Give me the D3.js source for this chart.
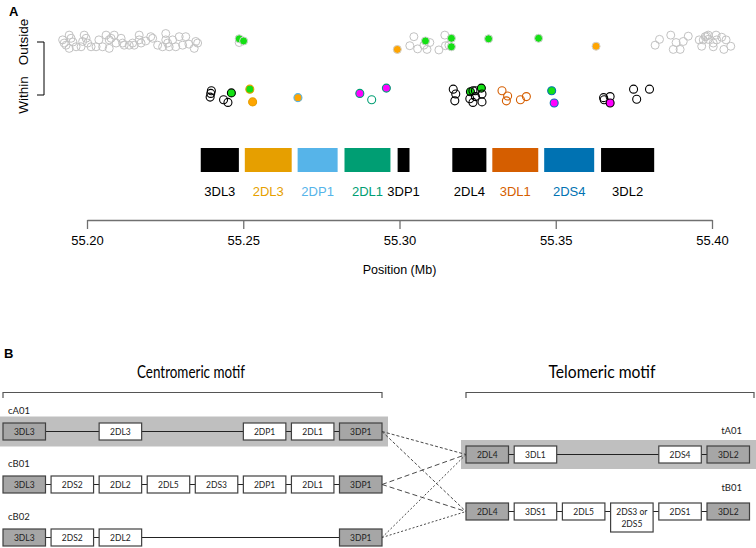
<!DOCTYPE html>
<html><head><meta charset="utf-8">
<script src="https://cdnjs.cloudflare.com/ajax/libs/d3/7.8.5/d3.min.js"></script>
<style>body{margin:0;background:#fff}svg{display:block}</style>
</head><body>
<script>
// ---------- Panel A data ----------
const tickValues = [55.20, 55.25, 55.30, 55.35, 55.40];
const rowLabels = ["Within", "Outside"];
const geneNames = ["3DL3","2DL3","2DP1","2DL1","3DP1","2DL4","3DL1","2DS4","3DL2"];
const geneStart = [55.2364,55.2505,55.2674,55.2824,55.2994,55.3169,55.3297,55.3463,55.3645];
const geneEnd   = [55.2486,55.2655,55.2802,55.2971,55.3032,55.3278,55.3444,55.3623,55.3815];
const geneColors = ["#000000","#E69F00","#56B4E9","#009E73","#000000","#000000","#D55E00","#0072B2","#000000"];

// outside gene region (grey open circles): position (Mb), jittered row value
const grayPos = [55.1922,55.1943,55.1949,55.1933,55.1943,55.1927,55.1965,55.1986,55.1991,55.1997,55.2002,55.1981,55.2013,55.2029,55.2050,55.2061,55.2071,55.2077,55.2087,55.2093,55.2071,55.2109,55.2114,55.2119,55.2135,55.2146,55.2151,55.2167,55.2167,55.2173,55.2204,55.2210,55.2226,55.2242,55.2252,55.2252,55.2258,55.2263,55.2274,55.2284,55.2295,55.2306,55.2316,55.2343,55.2348,55.2354,55.1955,55.2038,55.2188,55.2326,55.2487,
  55.3033,55.3046,55.3058,55.3078,55.3088,55.3097,55.3126,55.3145,55.3147,55.3158,
  55.3818,55.3832,55.3868,55.3885,55.3876,55.3898,55.3908,55.3924,55.3959,55.3967,55.3978,55.3983,55.3988,55.4004,55.4013,55.4015,55.4004,55.4031,55.4038,55.4045,55.4060,55.3972,55.3988];
const grayRow = [1.04,1.13,1.07,0.94,0.88,0.98,0.91,1.01,1.13,1.07,0.98,0.91,0.91,0.91,0.91,1.13,1.04,1.07,1.13,0.98,0.88,1.07,0.98,0.94,0.94,0.98,0.94,1.13,1.04,0.98,1.10,1.07,0.94,0.91,1.16,1.04,0.98,0.91,1.04,0.91,1.10,0.94,1.10,0.88,1.01,0.98,1.00,1.04,1.02,0.96,0.99,
  0.93,1.10,0.87,0.94,0.86,0.99,0.85,1.13,0.93,0.94,
  0.94,1.05,1.13,0.99,0.86,0.86,1.01,1.11,1.04,0.92,1.10,1.11,1.05,0.98,1.13,1.04,0.91,1.09,0.86,1.04,0.92,1.04,1.13];

// outside, coloured (filled) points
const outPos  = [55.2487,55.2501,55.3083,55.3166,55.3166,55.3285,55.3445,55.2993,55.3629];
const outRow  = [1.06,1.02,1.02,1.07,0.91,1.06,1.07,0.86,0.92];
const outFill = ["green","green","green","green","green","green","green","orange","orange"];

// within gene region: position, row jitter, gene index (stroke), fill class
const inPos  = [55.2398,55.2396,55.2394,55.2437,55.2451,55.2462,55.2521,55.2530,55.2675,55.2873,55.2911,55.2958,
  55.3172,55.3180,55.3177,55.3227,55.3225,55.3235,55.3243,55.3243,55.3235,55.3262,55.3264,55.3264,
  55.3328,55.3346,55.3342,55.3387,55.3406,55.3487,55.3495,
  55.3653,55.3655,55.3674,55.3674,55.3749,55.3759,55.3800];
const inRow  = [0.08,0.03,-0.04,-0.09,-0.14,0.04,0.11,-0.13,-0.05,0.03,-0.09,0.13,
  0.11,0.02,-0.11,0.06,-0.07,-0.14,0.08,-0.03,0.08,0.13,0.02,-0.13,
  0.08,-0.02,-0.11,-0.09,-0.03,0.08,-0.15,
  -0.05,-0.09,-0.03,-0.15,0.11,-0.08,0.11];
const inGene = [0,0,0,0,0,0,1,1,2,3,3,3, 5,5,5,5,5,5,5,5,5,5,5,5, 6,6,6,6,6,7,7, 8,8,8,8,8,8,8];
const inFill = ["none","none","none","none","none","green","green","orange","orange","magenta","none","magenta",
  "none","none","none","green","none","none","none","none","none","green","none","none",
  "none","none","none","none","none","green","magenta",
  "none","none","none","magenta","none","none","none"];
const fillColors = {none:"none", green:"#14e014", orange:"#FFA500", magenta:"#FF00FF"};

// ---------- Panel B data ----------
const centroNames = ["cA01","cB01","cB02"];
const centroGenes = [
  ["3DL3",null,"2DL3",null,null,"2DP1","2DL1","3DP1"],
  ["3DL3","2DS2","2DL2","2DL5","2DS3","2DP1","2DL1","3DP1"],
  ["3DL3","2DS2","2DL2",null,null,null,null,"3DP1"]
];
const teloNames = ["tA01","tB01"];
const teloGenes = [
  ["2DL4","3DL1",null,null,"2DS4","3DL2"],
  ["2DL4","3DS1","2DL5","2DS3 or 2DS5","2DS1","3DL2"]
];
const frameworkGenes = ["3DL3","3DP1","2DL4","3DL2"];
const linkDash = ["3,2","5,3","2,2"];

// ---------- Drawing ----------
const W = 756, H = 548;
const svg = d3.select("body").append("svg").attr("width", W).attr("height", H);
const sans = "'Liberation Sans', Arial, sans-serif";
const cal = "Lato, 'Open Sans', sans-serif";

// Panel A
svg.append("text").attr("x", 9).attr("y", 16).text("A")
  .attr("font-family", sans).attr("font-weight", "bold").attr("font-size", 13);

const x = d3.scaleLinear().domain([55.20, 55.40]).range([87, 712]);
const y = d3.scaleLinear().domain([0, 1]).range([95, 42]);

// y bracket axis
svg.append("path")
  .attr("d", `M37,${y(1)}H44V${y(0)}H37`)
  .attr("fill", "none").attr("stroke", "#000").attr("stroke-width", 1);
rowLabels.forEach((t, i) => {
  svg.append("text").text(t)
    .attr("transform", `translate(28,${y(i)}) rotate(-90)`)
    .attr("text-anchor", "middle").attr("font-family", sans).attr("font-size", 13.5);
});

const r = 4;
svg.append("g").selectAll("circle").data(grayPos).join("circle")
  .attr("cx", d => x(d)).attr("cy", (d, i) => y(grayRow[i])).attr("r", r)
  .attr("fill", "none").attr("stroke", "#c2c2c2").attr("stroke-width", 1);
svg.append("g").selectAll("circle").data(outPos).join("circle")
  .attr("cx", d => x(d)).attr("cy", (d, i) => y(outRow[i])).attr("r", r)
  .attr("fill", (d, i) => fillColors[outFill[i]]).attr("stroke", "#d0d0d0").attr("stroke-width", 1);
svg.append("g").selectAll("circle").data(inPos).join("circle")
  .attr("cx", d => x(d)).attr("cy", (d, i) => y(inRow[i])).attr("r", r)
  .attr("fill", (d, i) => fillColors[inFill[i]])
  .attr("stroke", (d, i) => geneColors[inGene[i]]).attr("stroke-width", 1.1);

// gene bars
svg.append("g").selectAll("rect").data(geneNames).join("rect")
  .attr("x", (d, i) => x(geneStart[i])).attr("width", (d, i) => x(geneEnd[i]) - x(geneStart[i]))
  .attr("y", 148).attr("height", 24)
  .attr("fill", (d, i) => geneColors[i]);
svg.append("g").selectAll("text").data(geneNames).join("text")
  .attr("x", (d, i) => (x(geneStart[i]) + x(geneEnd[i])) / 2).attr("y", 196)
  .attr("text-anchor", "middle").attr("font-family", sans).attr("font-size", 13)
  .attr("fill", (d, i) => geneColors[i]).text(d => d);

// x axis
const ax = svg.append("g").attr("transform", "translate(0,220)")
  .call(d3.axisBottom(x).tickValues(tickValues).tickFormat(d3.format(".2f")).tickSize(9).tickSizeOuter(0).tickPadding(7));
ax.select(".domain").attr("stroke", "#707070").attr("stroke-width", 1.3);
ax.selectAll(".tick line").attr("stroke", "#707070").attr("stroke-width", 1.3);
ax.selectAll("text").attr("font-family", sans).attr("font-size", 13).attr("fill", "#000");
svg.append("text").attr("x", (x(55.20) + x(55.40)) / 2).attr("y", 274)
  .attr("text-anchor", "middle").attr("font-family", sans).attr("font-size", 12.5).text("Position (Mb)");

// Panel B
svg.append("text").attr("x", 4).attr("y", 358).text("B")
  .attr("font-family", sans).attr("font-weight", "bold").attr("font-size", 13);

const boxW = 42.5, boxH = 17;
const cx = d3.scaleLinear().domain([0, 7]).range([3, 339.5]);
const tx = d3.scaleLinear().domain([0, 5]).range([466, 707]);
const cRowY = d3.scalePoint().domain(centroNames).range([431.5, 537.5]);
const tRowY = d3.scalePoint().domain(teloNames).range([454.5, 511.5]);

function motif(title, titleX, bx0, bx1, len) {
  svg.append("text").attr("x", titleX).attr("y", 378).attr("text-anchor", "middle")
    .attr("font-family", cal).attr("font-size", 16.5)
    .attr("textLength", len).attr("lengthAdjust", "spacingAndGlyphs").text(title);
  svg.append("path").attr("d", `M${bx0},398V392.5H${bx1}V398`)
    .attr("fill", "none").attr("stroke", "#555").attr("stroke-width", 1.2);
}
motif("Centromeric motif", 191, 3, 382, 108);
motif("Telomeric motif", 602, 466, 754, 107);

// highlight bands
svg.append("rect").attr("x", 0).attr("y", cRowY("cA01") - 15).attr("width", 388).attr("height", 30).attr("fill", "#bfbfbf");
svg.append("rect").attr("x", 461).attr("y", tRowY("tA01") - 14.5).attr("width", 295).attr("height", 29).attr("fill", "#bfbfbf");

// dashed links
const links = [];
centroNames.forEach((c, i) => teloNames.forEach(t => links.push({c, t, i})));
svg.append("g").selectAll("line").data(links).join("line")
  .attr("x1", cx(7) + boxW).attr("y1", d => cRowY(d.c))
  .attr("x2", tx(0)).attr("y2", d => tRowY(d.t))
  .attr("stroke", "#333").attr("stroke-width", 0.9)
  .attr("stroke-dasharray", d => linkDash[d.i]);

function drawRow(name, genes, xs, yc, labelX, anchor, labelY) {
  const g = svg.append("g");
  const idx = genes.map((d, i) => d ? i : -1).filter(i => i >= 0);
  g.append("line").attr("x1", xs(idx[0]) + boxW / 2).attr("x2", xs(idx[idx.length - 1]) + boxW / 2)
    .attr("y1", yc).attr("y2", yc).attr("stroke", "#222").attr("stroke-width", 1);
  const data = genes.map((d, i) => ({d, i})).filter(o => o.d);
  data.forEach(o => {
    const tall = o.d.indexOf(" or ") >= 0;
    const h = tall ? 29 : boxH;
    const fw = frameworkGenes.includes(o.d);
    g.append("rect").attr("x", xs(o.i)).attr("y", yc - boxH / 2).attr("width", boxW).attr("height", h)
      .attr("fill", fw ? "#a6a6a6" : "#fff").attr("stroke", "#404040").attr("stroke-width", 1.2);
    if (tall) {
      const parts = ["2DS3 or", "2DS5"];
      parts.forEach((p, k) => g.append("text").attr("x", xs(o.i) + boxW / 2).attr("y", yc + 3 + k * 12)
        .attr("text-anchor", "middle").attr("font-family", cal).attr("font-size", 8.5).attr("fill", "#222").text(p));
    } else {
      g.append("text").attr("x", xs(o.i) + boxW / 2).attr("y", yc + 3)
        .attr("text-anchor", "middle").attr("font-family", cal).attr("font-size", 8.5).attr("fill", "#222").text(o.d);
    }
  });
  g.append("text").attr("x", labelX).attr("y", labelY).attr("text-anchor", anchor)
    .attr("font-family", cal).attr("font-size", 9.5).attr("fill", "#222").text(name);
}
centroNames.forEach((n, i) => drawRow(n, centroGenes[i], cx, cRowY(n), 8, "start", cRowY(n) - 18));
teloNames.forEach((n, i) => drawRow(n, teloGenes[i], tx, tRowY(n), 742, "end", tRowY(n) - 21));
</script>
</body></html>
